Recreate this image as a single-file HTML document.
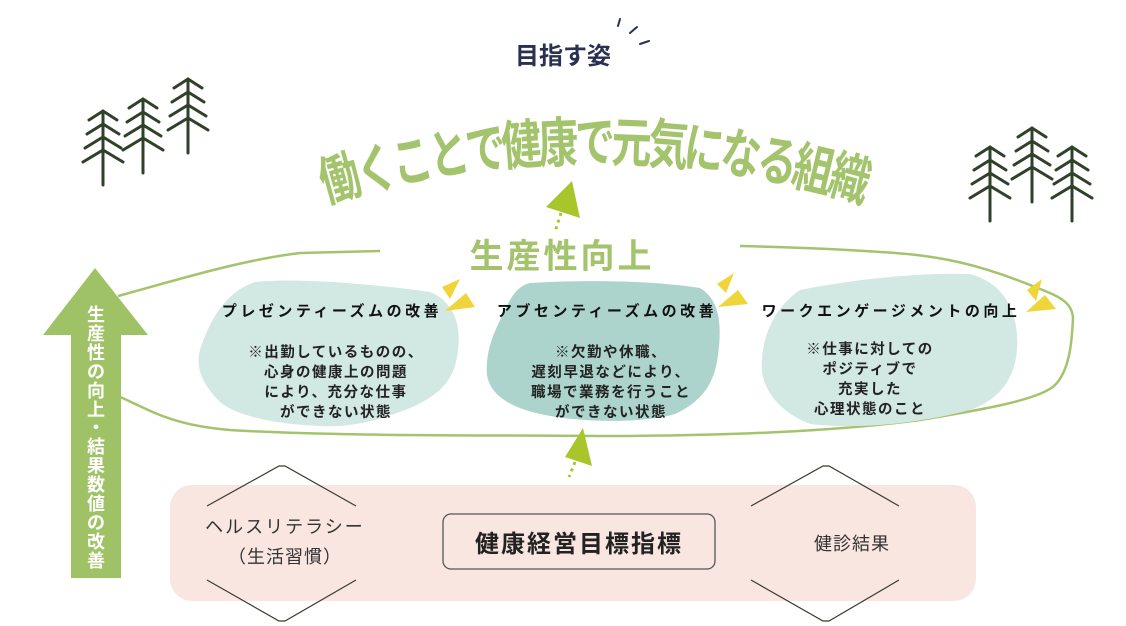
<!DOCTYPE html>
<html><head><meta charset="utf-8"><style>
html,body{margin:0;padding:0;background:#fff;}
svg{display:block;}
text{font-family:"Liberation Sans","Noto Sans CJK JP",sans-serif;}
</style></head><body>
<svg width="1126" height="626" viewBox="0 0 1126 626" xmlns="http://www.w3.org/2000/svg">
<defs>
<g id="tree" stroke="#2f4229" stroke-width="3" fill="none" stroke-linecap="round">
<line x1="0" y1="0" x2="0" y2="74"/>
<polyline points="-14,9 0,0 14,9"/>
<polyline points="-16,23 0,13 16,23"/>
<polyline points="-18,37 0,26 18,37"/>
<polyline points="-20,51 0,39 20,51"/>
</g>
</defs>
<use href="#tree" x="103" y="111"/>
<use href="#tree" x="143" y="99"/>
<use href="#tree" x="188" y="79"/>
<use href="#tree" x="990" y="147"/>
<use href="#tree" x="1032" y="128"/>
<use href="#tree" x="1072" y="147"/>

<text x="563" y="64" font-size="24" font-weight="bold" fill="#2a3050" text-anchor="middle">目指す姿</text>
<g stroke="#2a3050" stroke-width="2" stroke-linecap="round">
<line x1="620" y1="19" x2="618" y2="26"/>
<line x1="630" y1="33" x2="637" y2="27"/>
<line x1="640" y1="44" x2="649" y2="41"/>
</g>

<g fill="#a3c46c" font-size="40" font-weight="bold" text-anchor="middle">
<text transform="translate(345,197) rotate(-15.6) scale(1,1.35)">働</text>
<text transform="translate(381,188) rotate(-13.5) scale(1,1.35)">く</text>
<text transform="translate(416,180) rotate(-11.3) scale(1,1.35)">こ</text>
<text transform="translate(452,173) rotate(-9.1) scale(1,1.35)">と</text>
<text transform="translate(488,168) rotate(-6.8) scale(1,1.35)">で</text>
<text transform="translate(523,164) rotate(-4.6) scale(1,1.35)">健</text>
<text transform="translate(559,162) rotate(-2.3) scale(1,1.35)">康</text>
<text transform="translate(595,161) scale(1,1.35)">で</text>
<text transform="translate(631,162) rotate(2.3) scale(1,1.35)">元</text>
<text transform="translate(667,164) rotate(4.6) scale(1,1.35)">気</text>
<text transform="translate(702,168) rotate(6.8) scale(1,1.35)">に</text>
<text transform="translate(738,173) rotate(9.1) scale(1,1.35)">な</text>
<text transform="translate(774,180) rotate(11.3) scale(1,1.35)">る</text>
<text transform="translate(809,188) rotate(13.5) scale(1,1.35)">組</text>
<text transform="translate(845,197) rotate(15.6) scale(1,1.35)">織</text>
</g>

<polygon points="572,181 546,207 580,218" fill="#a9c52c"/>
<line x1="561" y1="213" x2="555" y2="232" stroke="#a9c52c" stroke-width="3" stroke-dasharray="3,4"/>

<text x="562" y="268" font-size="34" font-weight="bold" fill="#a3c46c" text-anchor="middle" letter-spacing="3">生産性向上</text>

<path d="M380,251 L300,253 C240,260 170,282 118,296" fill="none" stroke="#a3c46c" stroke-width="2.5"/>
<path d="M118,396 C150,410 170,425 230,430 C330,436 450,435 600,436 C760,436 860,428 920,420 C980,410 1040,400 1055,385 C1070,370 1072,340 1073,318 C1072,300 1055,295 1030,285 C980,265 940,255 880,252 C840,249 780,247 740,246" fill="none" stroke="#a3c46c" stroke-width="2.5"/>

<polygon points="95,268 43,335 71,335 71,578 121,578 121,335 148,335" fill="#a0c266"/>
<g fill="#fff" font-size="18" font-weight="bold" text-anchor="middle">
<text x="96" y="321">生</text><text x="96" y="340">産</text><text x="96" y="359">性</text><text x="96" y="378">の</text><text x="96" y="397">向</text><text x="96" y="416">上</text><text x="96" y="434">・</text><text x="96" y="453">結</text><text x="96" y="472">果</text><text x="96" y="491">数</text><text x="96" y="510">値</text><text x="96" y="529">の</text><text x="96" y="548">改</text><text x="96" y="567">善</text>
</g>

<path d="M255,282 C300,277 380,285 430,292 C450,300 462,320 458,350 C455,380 440,395 410,408 C380,420 350,428 320,426 C280,424 240,418 220,402 C203,385 195,368 200,350 C210,320 225,292 255,282 Z" fill="#d2e8e2"/>
<path d="M530,283 C580,280 650,280 700,288 C720,300 722,325 718,355 C715,380 705,400 675,414 C640,424 580,422 545,415 C510,408 490,395 487,375 C485,350 495,330 505,310 C512,295 518,286 530,283 Z" fill="#acd4cd"/>
<path d="M800,290 C850,280 920,272 970,274 C1000,282 1015,305 1017,335 C1020,375 1000,400 970,410 C920,423 860,430 810,424 C780,412 765,392 762,372 C760,345 770,310 800,290 Z" fill="#d2e8e2"/>

<g fill="#f0d53a">
<polygon points="442,287 460,279 450,299"/><polygon points="445,311 466,293 475,307"/>
<polygon points="717,284 734,273 726,293"/><polygon points="718,307 738,290 748,304"/>
<polygon points="1027,290 1042,279 1036,301"/><polygon points="1026,312 1045,295 1056,309"/>
</g>

<g font-size="15" font-weight="bold" fill="#111" text-anchor="middle" letter-spacing="3.5">
<text x="332" y="316">プレゼンティーズムの改善</text>
<text x="607" y="316">アブセンティーズムの改善</text>
<text x="891" y="316">ワークエンゲージメントの向上</text>
</g>
<g font-size="14.5" fill="#222" text-anchor="middle" font-weight="bold" letter-spacing="1.5">
<text x="336" y="357">※出勤しているものの、</text>
<text x="336" y="377">心身の健康上の問題</text>
<text x="336" y="397">により、充分な仕事</text>
<text x="336" y="417">ができない状態</text>
<text x="611" y="357">※欠勤や休職、</text>
<text x="611" y="377">遅刻早退などにより、</text>
<text x="611" y="397">職場で業務を行うこと</text>
<text x="611" y="417">ができない状態</text>
<text x="870" y="354">※仕事に対しての</text>
<text x="870" y="374">ポジティブで</text>
<text x="870" y="394">充実した</text>
<text x="870" y="414">心理状態のこと</text>
</g>

<polygon points="583,428 565,457 592,466" fill="#a9c52c"/>
<line x1="575" y1="462" x2="569" y2="477" stroke="#a9c52c" stroke-width="3" stroke-dasharray="3,4"/>

<rect x="170" y="485" width="806" height="116" rx="22" fill="#f9e6e0"/>

<g fill="none" stroke="#3a3a30" stroke-width="1.2">
<polyline points="207,506 279,466 285,466 356,506"/>
<polyline points="207,580 279,621 285,621 356,580"/>
<polyline points="751,506 823,466 829,466 899,506"/>
<polyline points="751,580 823,621 829,621 899,580"/>
</g>
<g font-size="18" fill="#333" text-anchor="middle">
<text x="285" y="533" letter-spacing="2">ヘルスリテラシー</text>
<text x="285" y="563" letter-spacing="1">（生活習慣）</text>
<text x="852" y="550" letter-spacing="1">健診結果</text>
</g>
<rect x="443" y="514" width="272" height="55" rx="8" fill="none" stroke="#555" stroke-width="1.3"/>
<text x="579" y="552" font-size="24" font-weight="bold" fill="#222" text-anchor="middle" letter-spacing="2">健康経営目標指標</text>
</svg>
</body></html>
